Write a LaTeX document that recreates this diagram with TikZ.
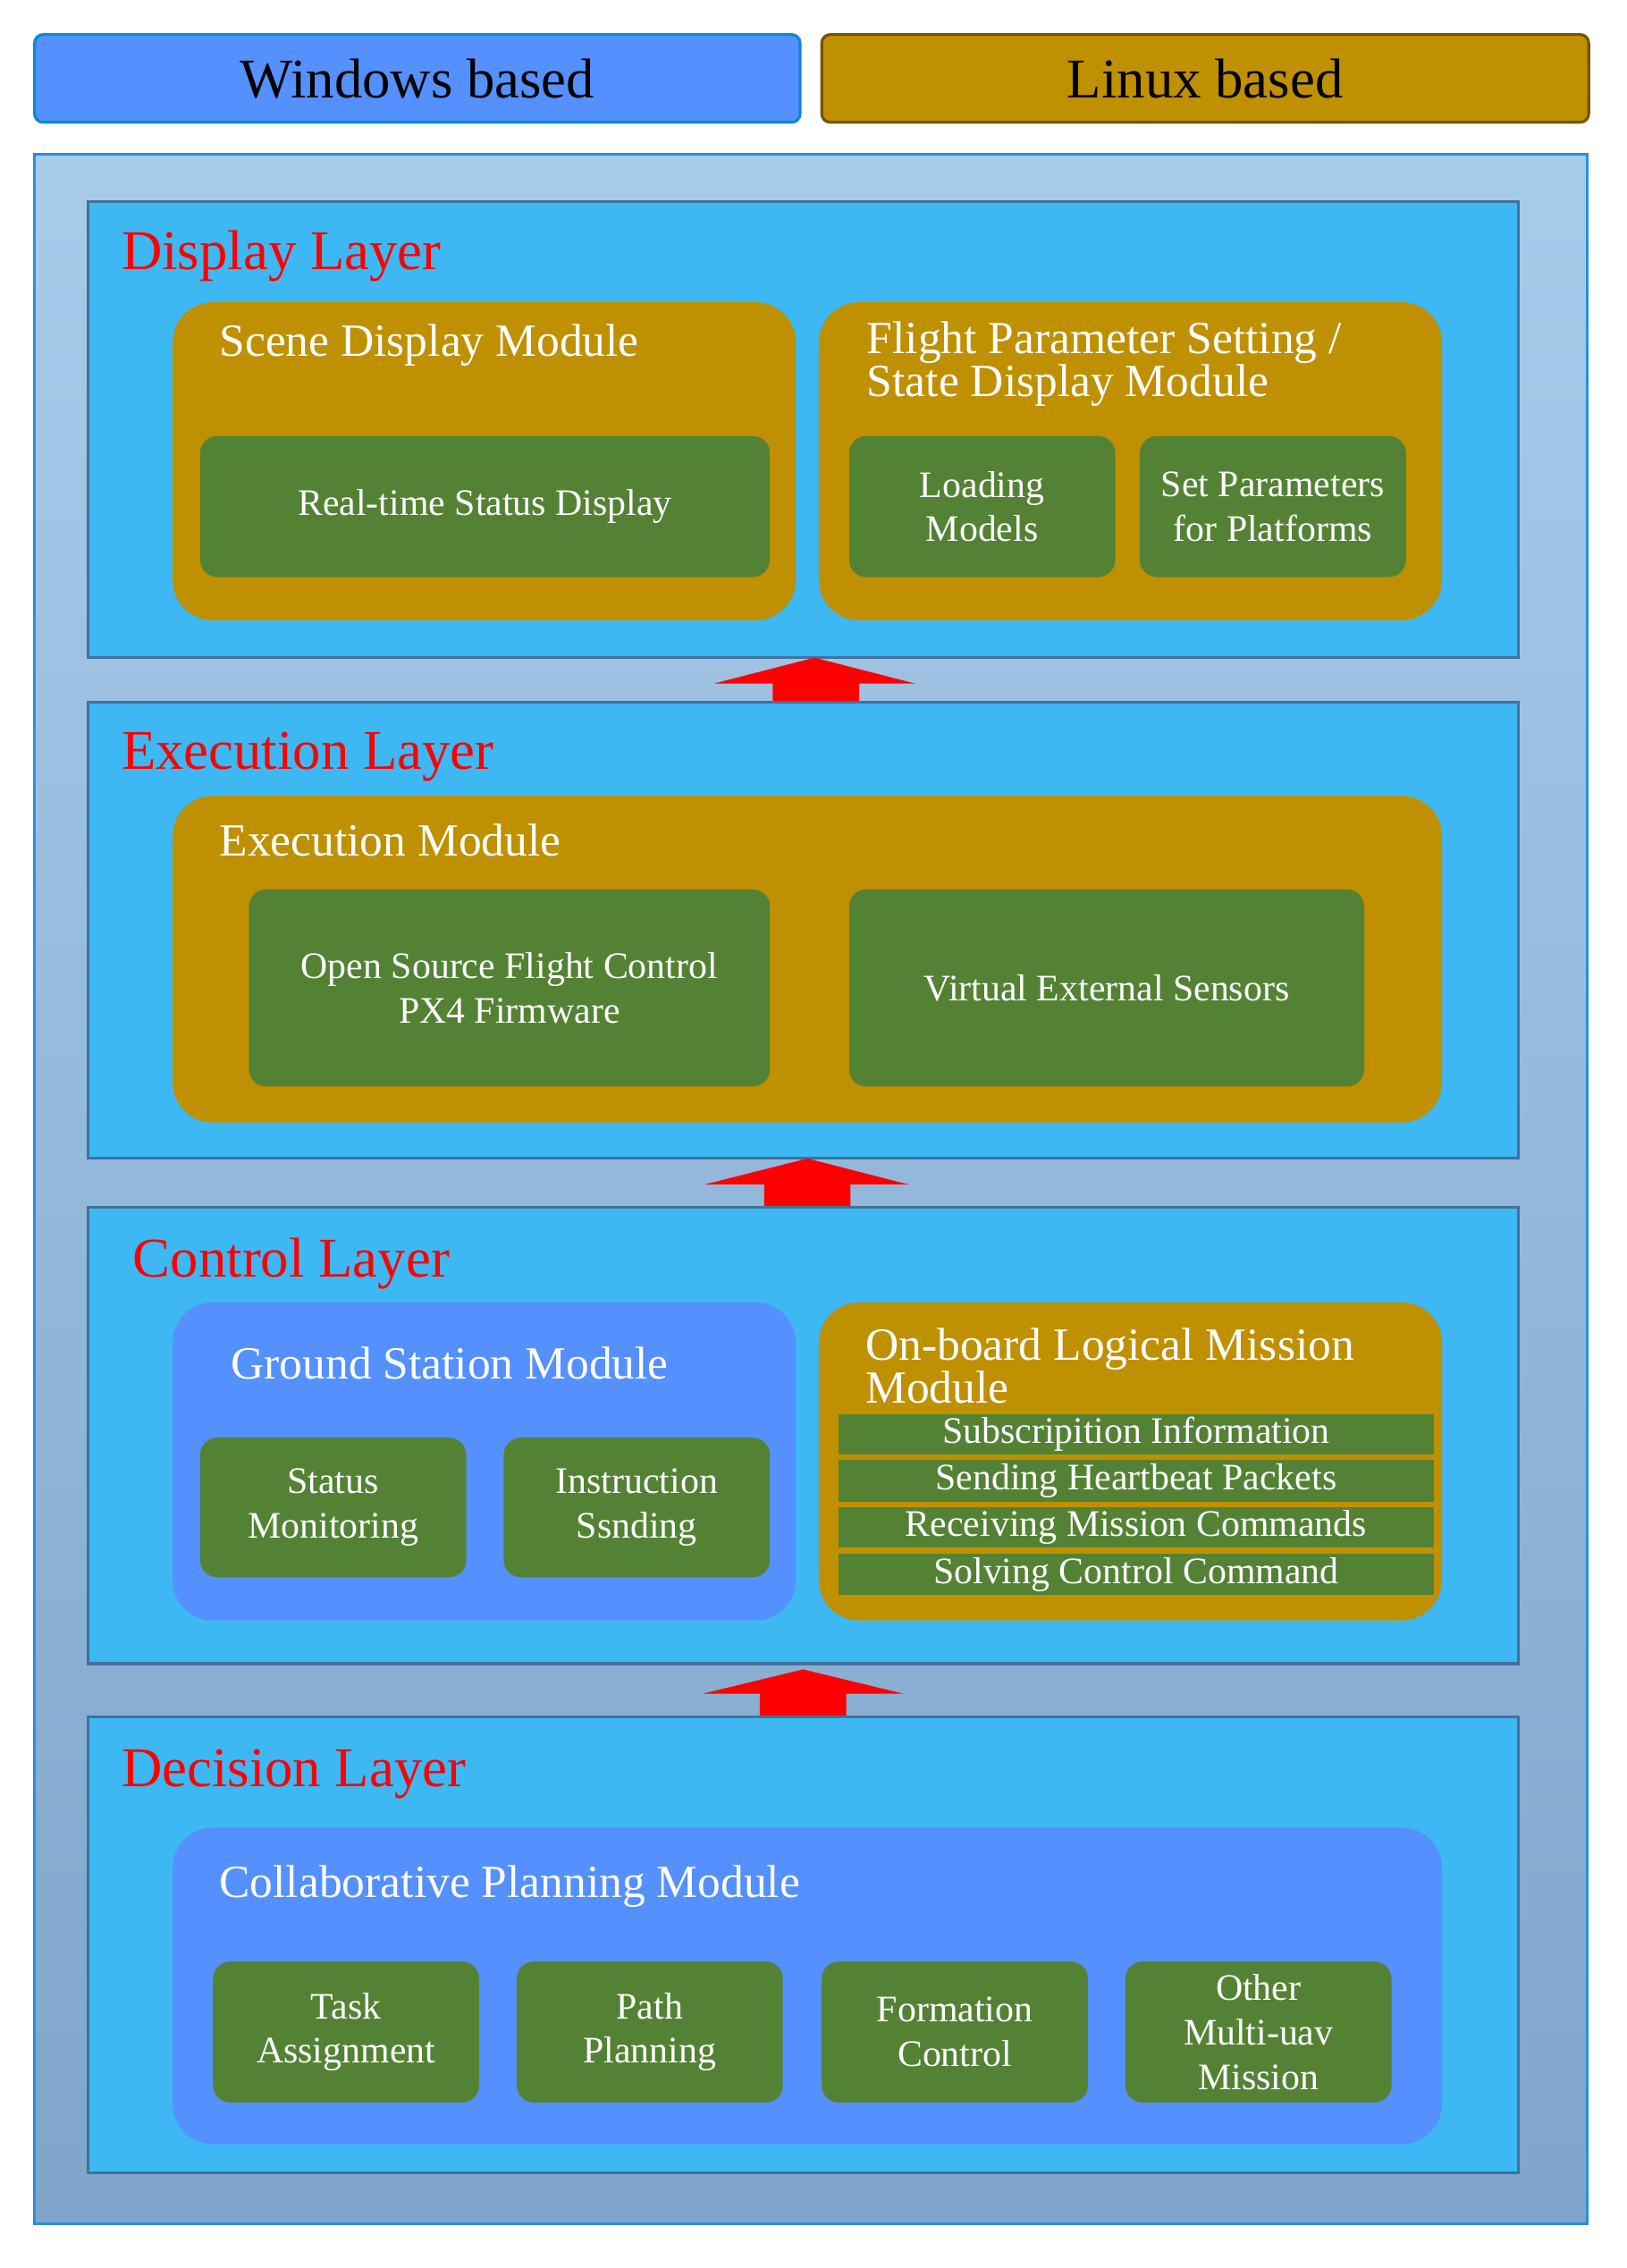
\documentclass[tikz,border=0pt]{standalone}
\usepackage{fontspec}
\setmainfont{Liberation Serif}
\begin{document}
\begin{tikzpicture}[x=1pt,y=-1pt,
 gold/.style={fill=gold1,draw=none,rounded corners=28pt},
 blu/.style={fill=blu1,draw=none,rounded corners=28pt},
 grn/.style={fill=grn1,draw=none,rounded corners=12pt,text=white,font=\fontsize{26}{31}\selectfont,align=center},
 bar/.style={fill=grn1,draw=gold1,line width=1pt,text=white,font=\fontsize{26}{28}\selectfont},
 layer/.style={fill=lay1,draw=lay2,line width=2pt},
 ltitle/.style={text=red,font=\fontsize{39}{42}\selectfont,anchor=west},
 mtitle/.style={text=white,font=\fontsize{32}{27}\selectfont,anchor=west,align=left},
 up/.style={fill=red,draw=none}]
\definecolor{gold1}{HTML}{BF9000}
\definecolor{blu1}{HTML}{5590FF}
\definecolor{grn1}{HTML}{548235}
\definecolor{lay1}{HTML}{3DB8F2}
\definecolor{lay2}{HTML}{41719C}
\definecolor{outtop}{HTML}{A9CBEA}
\definecolor{outbot}{HTML}{7FA5CB}
\useasboundingbox (0,0) rectangle (1130,1576);
\fill[white] (0,0) rectangle (1130,1576);
% top legend
\node[fill=blu1,draw=cyan!70!blue,line width=2pt,rounded corners=6pt,minimum width=532pt,minimum height=61pt,font=\fontsize{39}{42}\selectfont] (win) at (290,54.5) {Windows based};
\node[fill=gold1,draw=gold1!60!black,line width=2pt,rounded corners=6pt,minimum width=533pt,minimum height=61pt,font=\fontsize{39}{42}\selectfont] (lin) at (837.5,54.5) {Linux based};
% outer
\shade[top color=outtop,bottom color=outbot] (24,107) rectangle (1103,1545);
\draw[draw=blue!40!cyan!70!gray,line width=2pt] (24,107) rectangle (1103,1545);
% Display layer
\draw[layer] (61,140) rectangle (1055,457);
\node[ltitle] (dl) at (81,178) {Display Layer};
\draw[gold] (120,210) rectangle (553,431);
\node[mtitle] (sdm) at (149,240) {Scene Display Module};
\draw[grn] (139,303) rectangle node (rt) {Real-time Status Display} (535,401);
\draw[gold] (569,210) rectangle (1002,431);
\node[mtitle] (fps) at (599,253) {Flight Parameter Setting /\\State Display Module};
\draw[grn] (590,303) rectangle node (lm) {Loading\\Models} (775,401);
\draw[grn] (792,303) rectangle node (sp) {Set Parameters\\for Platforms} (977,401);
% arrow 1
\fill[up] (537,488) -- (537,475) -- (496,475) -- (566,457) -- (636,475) -- (597,475) -- (597,488) -- cycle;
% Execution layer
\draw[layer] (61,488) rectangle (1055,805);
\node[ltitle] (el) at (81,526) {Execution Layer};
\draw[gold] (120,553) rectangle (1002,780);
\node[mtitle] (em) at (149,584) {Execution Module};
\draw[grn] (173,618) rectangle node (os) {Open Source Flight Control\\PX4 Firmware} (535,755);
\draw[grn] (590,618) rectangle node (ve) {Virtual External Sensors} (948,755);
% arrow 2
\fill[up] (531,839) -- (531,823) -- (490,823) -- (561,805) -- (631,823) -- (591,823) -- (591,839) -- cycle;
% Control layer
\draw[layer] (61,839) rectangle (1055,1156);
\node[ltitle] (cl) at (89,878) {Control Layer};
\draw[blu] (120,905) rectangle (553,1126);
\node[mtitle] (gs) at (157,947) {Ground Station Module};
\draw[grn] (139,999) rectangle node (sm) {Status\\Monitoring} (324,1096);
\draw[grn] (350,999) rectangle node (is) {Instruction\\Ssnding} (535,1096);
\draw[gold] (569,905) rectangle (1002,1126);
\node[mtitle] (ob) at (598,949) {On-board Logical Mission\\Module};
\draw[bar] (582,982) rectangle node (b1) {Subscripition Information} (997,1011);
\draw[bar] (582,1014) rectangle node (b2) {Sending Heartbeat Packets} (997,1044);
\draw[bar] (582,1047) rectangle node (b3) {Receiving Mission Commands} (997,1076);
\draw[bar] (582,1079) rectangle node (b4) {Solving Control Command} (997,1109);
% arrow 3
\fill[up] (528,1193) -- (528,1177) -- (488,1177) -- (558,1160) -- (628,1177) -- (588,1177) -- (588,1193) -- cycle;
% Decision layer
\draw[layer] (61,1193) rectangle (1055,1510);
\node[ltitle] (decl) at (81,1233) {Decision Layer};
\draw[blu] (120,1270) rectangle (1002,1490);
\node[mtitle] (cp) at (149,1311) {Collaborative Planning Module};
\draw[grn] (148,1363) rectangle node (ta) {Task\\Assignment} (333,1461);
\draw[grn] (359,1363) rectangle node (pp) {Path\\Planning} (544,1461);
\draw[grn] (571,1363) rectangle node (fc) {Formation\\Control} (756,1461);
\draw[grn] (782,1363) rectangle node (om) {Other\\Multi-uav\\Mission} (967,1461);
\end{tikzpicture}
\end{document}
